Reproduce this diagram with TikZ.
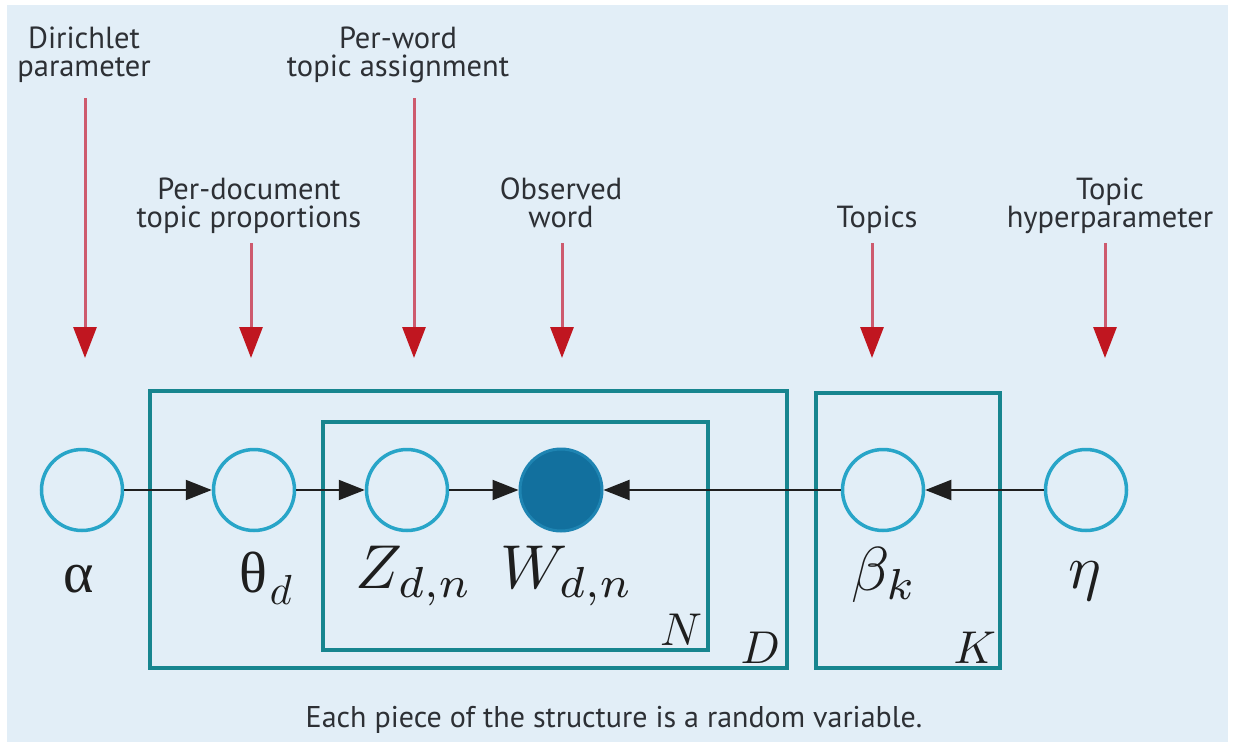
\documentclass[tikz,border=0pt]{standalone}
\usepackage{fontspec}
\newfontfamily\labfont{PT Sans}
\newfontfamily\grk{Liberation Serif}
\usetikzlibrary{arrows.meta}
\definecolor{bgblue}{RGB}{226,238,247}
\definecolor{platec}{RGB}{23,133,143}
\definecolor{circc}{RGB}{40,165,200}
\definecolor{obsfill}{RGB}{18,112,158}
\definecolor{obsdraw}{RGB}{30,132,178}
\definecolor{redline}{RGB}{205,90,110}
\definecolor{redhead}{RGB}{192,22,32}
\definecolor{labtext}{RGB}{45,48,53}
\definecolor{mathtext}{RGB}{30,30,30}
\begin{document}
\begin{tikzpicture}[x=1pt,y=-1pt,
  var/.style={circle, draw=circc, line width=3.5pt, minimum size=81pt, inner sep=0pt},
  obsvar/.style={circle, draw=obsdraw, fill=obsfill, line width=3pt, minimum size=82pt, inner sep=0pt},
  plate/.style={draw=platec, line width=3.5pt},
  lab/.style={font=\labfont\fontsize{30.5}{28}\selectfont, text=labtext, align=center, inner sep=0pt},
  caption/.style={font=\labfont\fontsize{30}{30}\selectfont, text=labtext, inner sep=0pt},
  mlab/.style={scale=6.2, text=mathtext, inner sep=0pt, anchor=base},
  glab/.style={font=\grk\fontsize{58}{58}\selectfont, text=mathtext, inner sep=0pt, anchor=base},
  plab/.style={scale=4.6, text=mathtext, inner sep=0pt, anchor=base east},
  edge/.style={draw=black!88, line width=2pt, -{Triangle[length=26pt,width=20pt]}},
  pointer/.style={draw=redline, line width=3pt, -{Triangle[length=31pt,width=23pt,color=redhead]}}
]
\useasboundingbox (0,0) rectangle (1234,742);
\fill[white] (0,0) rectangle (1234,742);
\fill[bgblue] (7,5) rectangle (1228,742);

% plates
\draw[plate] (150,391) rectangle (787,668);
\draw[plate] (323,422) rectangle (708,650);
\draw[plate] (816,393) rectangle (1000,668);
\node[plab] (pN) at (703,645) {$N$};
\node[plab] (pD) at (781,663) {$D$};
\node[plab] (pK) at (997,663) {$K$};

% variables
\node[var] (alpha) at (82,490) {};
\node[var] (theta) at (254,490) {};
\node[var] (z) at (407,490) {};
\node[obsvar] (w) at (561,490) {};
\node[var] (beta) at (883,490) {};
\node[var] (eta) at (1086,490) {};

% variable labels
\node[glab] (lalpha) at (79,592) {α};
\node[glab, anchor=base west] (ltheta) at (239,592) {θ};
\node[scale=4.2, text=mathtext, inner sep=0pt, anchor=base west] (lthetad) at (269,604) {$d$};
\node[mlab] (lz) at (414,588) {$Z_{d,n}$};
\node[mlab] (lw) at (567,588) {$W_{d,n}$};
\node[mlab] (lbeta) at (884,590) {$\beta_k$};
\node[mlab] (leta) at (1085,588) {$\eta$};

% edges
\draw[edge] (alpha) -- (theta);
\draw[edge] (theta) -- (z);
\draw[edge] (z) -- (w);
\draw[edge] (beta) -- (w);
\draw[edge] (eta) -- (beta);

% top labels
\node[lab, anchor=base] (tdir) at (84,76) {Dirichlet\\parameter};
\node[lab, anchor=base] (tword) at (398,76) {Per-word\\topic assignment};
\node[lab, anchor=base] (tdoc) at (249,227) {Per-document\\topic proportions};
\node[lab, anchor=base] (tobs) at (561,227) {Observed\\word};
\node[lab, anchor=base] (ttop) at (877,227) {Topics};
\node[lab, anchor=base] (thyp) at (1110,227) {Topic\\hyperparameter};

% pointer arrows
\coordinate (s1) at (85,98);  \coordinate (e1) at (85,358);
\coordinate (s2) at (251,243); \coordinate (e2) at (251,358);
\coordinate (s3) at (414,98); \coordinate (e3) at (414,358);
\coordinate (s4) at (562,243); \coordinate (e4) at (562,358);
\coordinate (s5) at (872,243); \coordinate (e5) at (872,358);
\coordinate (s6) at (1105,243); \coordinate (e6) at (1105,358);
\foreach \i in {1,...,6} { \draw[pointer] (s\i) -- (e\i); }

% caption
\node[caption, anchor=base] (cap) at (614,727) {Each piece of the structure is a random variable.};
\end{tikzpicture}
\end{document}
